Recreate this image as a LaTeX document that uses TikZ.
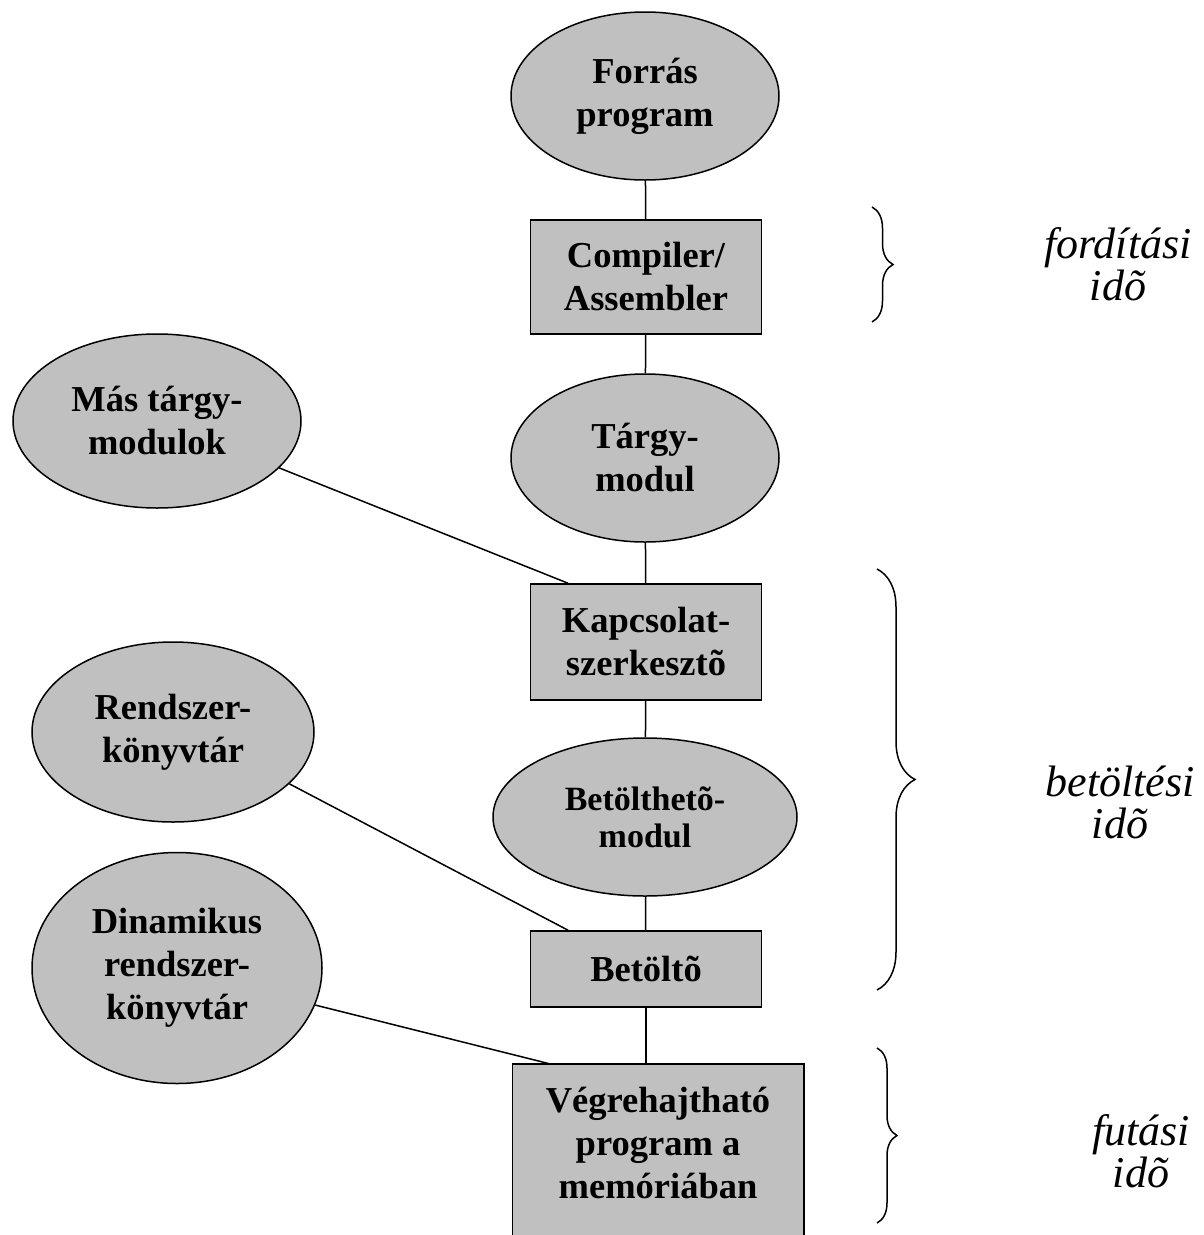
\documentclass[tikz,border=0pt]{standalone}
\usepackage{fontspec}
\setmainfont{Liberation Serif}
\usetikzlibrary{shapes.geometric,decorations.pathreplacing,calc,backgrounds}
\definecolor{boxgray}{RGB}{192,192,192}
\tikzset{
  base/.style={draw=black, line width=1.5pt, fill=boxgray, align=center, inner sep=0pt,
               font=\fontsize{36.5}{43}\selectfont\bfseries},
  ell/.style={base, ellipse},
  blk/.style={base, rectangle},
  wire/.style={line width=1.5pt},
  lbl/.style={align=center, inner sep=0pt, font=\fontsize{44}{42}\selectfont\itshape},
  brc/.style={decorate, decoration={brace, amplitude=#1}, line width=1.5pt},
}
\begin{document}
\begin{tikzpicture}[x=1pt,y=-1pt]
  \clip (0,0) rectangle (1204,1235);

  % main chain
  \node[ell, minimum width=268, minimum height=168] (src) at (645,96) {Forrás\\program};
  \node[blk, minimum width=231, minimum height=114] (comp) at (646,277) {Compiler/\\Assembler};
  \node[ell, minimum width=268, minimum height=168] (obj) at (645,458) {Tárgy-\\modul};
  \node[blk, minimum width=231, minimum height=116] (kapcs) at (646,642) {Kapcsolat-\\szerkesztõ};
  \node[ell, minimum width=304, minimum height=158, font=\fontsize{34}{37}\selectfont\bfseries] (load) at (645,817) {Betölthetõ-\\modul};
  \node[blk, minimum width=231, minimum height=76] (ldr) at (646,969) {Betöltõ};
  % the last box runs on past the lower edge; its frame is drawn behind the text
  \node[blk, draw=none, fill=none, minimum width=290, minimum height=156, anchor=north] (exe) at (658,1064) {Végrehajtható\\program a\\memóriában};

  % side inputs
  \node[ell, minimum width=288, minimum height=174] (other) at (157,421) {Más tárgy-\\modulok};
  \node[ell, minimum width=282, minimum height=180] (lib) at (173,732) {Rendszer-\\könyvtár};
  \node[ell, minimum width=290, minimum height=231] (dyn) at (177,968) {Dinamikus\\rendszer-\\könyvtár};

  \begin{scope}[on background layer]
    \fill[white] (0,0) rectangle (1204,1235);
    \draw[line width=1.5pt, fill=boxgray] (exe.north west) rectangle ($(exe.south east)+(0,80)$);
  \end{scope}

  % connectors
  \draw[wire] (src) -- (comp);
  \draw[wire] (comp) -- (obj);
  \draw[wire] (obj) -- (kapcs);
  \draw[wire] (kapcs) -- (load);
  \draw[wire] (load) -- (ldr);
  \draw[wire] (ldr.south) -- (ldr.south |- exe.north);
  \draw[wire] (other.-21) -- ($(kapcs.north west)!0.165!(kapcs.north east)$);
  \draw[wire] (lib.-24) -- ($(ldr.north west)!0.165!(ldr.north east)$);
  \draw[wire] (dyn.-15) -- ($(exe.north west)!0.131!(exe.north east)$);

  % phase braces
  \draw[brc=21] (872,207) -- (872,322);
  \draw[brc=38] (877,569) -- (877,990);
  \draw[brc=20] (877,1048) -- (877,1223);

  % phase labels
  \node[lbl] (t1) at (1118,264) {fordítási\\idõ};
  \node[lbl] (t2) at (1120,802) {betöltési\\idõ};
  \node[lbl] (t3) at (1141,1151) {futási\\idõ};
\end{tikzpicture}
\end{document}
